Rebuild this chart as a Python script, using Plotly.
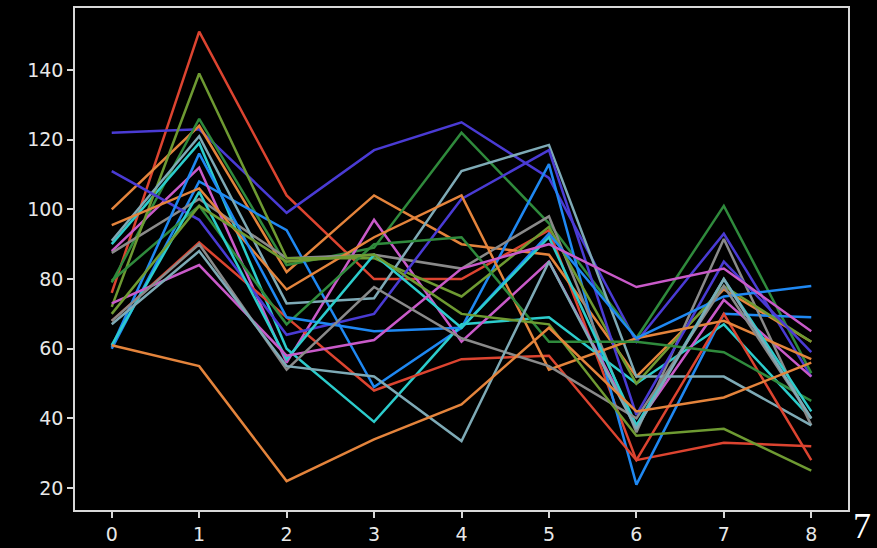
import plotly.graph_objects as go

steps = [0, 1, 2, 3, 4, 5, 6, 7, 8]

red_a = [76, 151, 104, 80, 80, 94, 28, 33, 32]
red_b = [68, 90.5, 69, 48, 57, 58, 28, 70, 28]
purple_a = [122, 123, 99, 117, 125, 109, 62, 93, 52]
purple_b = [111, 97, 64, 70, 103, 117, 41, 85, 59]
orange_a = [100, 124, 82, 104, 90, 87, 52, 77, 62]
orange_b = [95.5, 106, 77, 92, 104, 54, 63, 68, 57]
orange_c = [61, 55, 22, 34, 44, 66, 42, 46, 56]
green_a = [79, 126, 84, 89, 122, 96, 63, 101, 53]
green_b = [79.5, 101, 67, 90, 92, 62, 62, 59, 45]
olive_a = [72, 139, 86, 86, 75, 95, 50, 78, 62]
olive_b = [70, 101, 85, 87, 70, 67, 35, 37, 25]
cyan_a = [90, 119, 60, 39, 67, 69, 50, 67, 40]
cyan_b = [61, 105, 57, 87, 66, 92, 38, 80, 42]
blue_a = [60, 108, 94, 49, 66, 113, 21, 70, 69]
blue_b = [60.5, 116, 69, 65, 66, 93, 63, 75, 78]
magenta_a = [88, 112, 56, 97, 62, 85, 38, 74, 52]
magenta_b = [73, 84, 58, 62.5, 83, 90, 77.7, 83, 65]
grey_a = [87.5, 103, 86, 87, 83, 98, 36, 91.5, 38]
grey_b = [68, 90, 54, 77.7, 63, 55, 40, 78, 40]
slate_a = [91, 121, 73, 74.5, 111, 118.5, 52, 52, 38]
slate_b = [67, 88, 55, 52, 33.5, 85, 37, 80, 40]

series = [red_a, purple_a, orange_a, green_a, blue_a, cyan_a, magenta_a, grey_a, olive_a, slate_a,
          red_b, purple_b, orange_b, green_b, blue_b, cyan_b, magenta_b, grey_b, olive_b, slate_b,
          orange_c]
colors = ["#dc4430", "#4a3bd4", "#e4843c", "#2f8a3c", "#1f88f2", "#2ccccc", "#c95ac9", "#8a8a8a", "#6e9a32", "#7eaab6",
          "#dc4430", "#4a3bd4", "#e4843c", "#2f8a3c", "#1f88f2", "#2ccccc", "#c95ac9", "#8a8a8a", "#6e9a32", "#7eaab6",
          "#e4843c"]

fig = go.Figure()
for vals, col in zip(series, colors):
    fig.add_trace(go.Scatter(x=steps, y=vals, mode="lines",
                             line=dict(color=col, width=2.5), showlegend=False))

axis_style = dict(showgrid=False, zeroline=False, showline=True, mirror=True,
                  linecolor="#d8d8d8", linewidth=1.6, ticks="outside", ticklen=6,
                  tickwidth=1.6, tickcolor="#d8d8d8", automargin=False,
                  tickfont=dict(family="DejaVu Sans", size=19, color="#e8e8e8"))

fig.update_xaxes(range=[-0.42, 8.42], tickvals=steps, **axis_style)
fig.update_yaxes(range=[13.7, 157.8], tickvals=[20, 40, 60, 80, 100, 120, 140], **axis_style)

fig.add_annotation(text="7", xref="paper", yref="paper", x=1.004, y=0.0,
                   xanchor="left", yanchor="top", yshift=6, showarrow=False,
                   font=dict(family="Liberation Serif", size=36, color="#ffffff"))

fig.update_layout(width=877, height=548, paper_bgcolor="#000000", plot_bgcolor="#000000",
                  margin=dict(l=75, r=29, t=8, b=38, autoexpand=False))

fig.write_html("out.html")
